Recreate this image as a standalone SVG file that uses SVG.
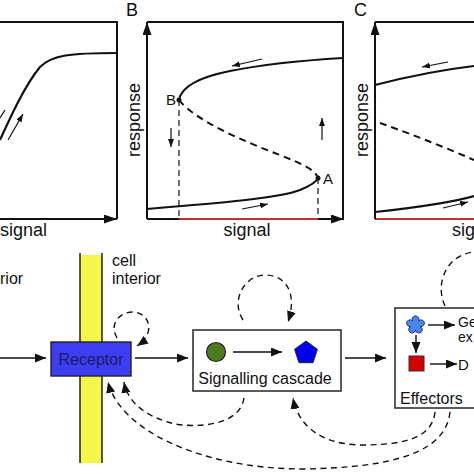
<svg xmlns="http://www.w3.org/2000/svg" width="474" height="474" viewBox="0 0 474 474">
<style>
text{font-family:"Liberation Sans",Arial,sans-serif;fill:#111}
.lbl{font-size:18px}
.t16{font-size:16px}
.t15{font-size:15px}
.t14{font-size:14px}
.ln{fill:none;stroke:#111;stroke-width:2}
.crv{fill:none;stroke:#111;stroke-width:2.2}
.dcrv{fill:none;stroke:#111;stroke-width:2;stroke-dasharray:7 5}
.vd{fill:none;stroke:#111;stroke-width:1.2;stroke-dasharray:6 4}
.red{stroke:#c8302c;stroke-width:2.2}
.sa{fill:none;stroke:#111;stroke-width:1.2;marker-end:url(#sh)}
.con{fill:none;stroke:#111;stroke-width:1.4;marker-end:url(#ah)}
.dcon{fill:none;stroke:#111;stroke-width:1.4;stroke-dasharray:6 4.5;marker-end:url(#ah)}
.box{fill:#fff;stroke:#333;stroke-width:1.6}
</style>
<defs>
<marker id="ah" markerUnits="userSpaceOnUse" markerWidth="12" markerHeight="10" refX="11" refY="4.5" orient="auto"><path d="M0,0 L11,4.5 L0,9 z" fill="#111"/></marker>
<marker id="axh" markerUnits="userSpaceOnUse" markerWidth="14" markerHeight="10" refX="13" refY="4.5" orient="auto"><path d="M0,0 L13,4.5 L0,9 z" fill="#111"/></marker>
<marker id="sh" markerUnits="userSpaceOnUse" markerWidth="9" markerHeight="7" refX="8" refY="3" orient="auto"><path d="M0,0 L8,3 L0,6 z" fill="#111"/></marker>
</defs>

<!-- Panel A -->
<g id="panelA">
<path class="ln" d="M0,22 H117 V219"/>
<line class="ln" x1="0" y1="219" x2="117" y2="219" marker-end="url(#axh)"/>
<path class="crv" d="M0,140 C10,118 25,85 40,67 C52,55 70,53 117,53"/>
<line x1="5" y1="110" x2="0" y2="118" stroke="#111" stroke-width="1.2"/>
<line class="sa" x1="8" y1="140" x2="23" y2="114"/>
<text class="lbl" x="0" y="236">signal</text>
</g>

<!-- Panel B -->
<g id="panelB">
<text class="lbl" x="126" y="16">B</text>
<path class="ln" d="M147,22 H343 V219"/>
<line class="ln" x1="147" y1="219" x2="147" y2="22" marker-end="url(#axh)"/>
<line class="ln" x1="147" y1="219" x2="344" y2="219" marker-end="url(#axh)"/>
<line class="red" x1="179" y1="219" x2="318" y2="219"/>
<line class="vd" x1="179" y1="100" x2="179" y2="218"/>
<line class="vd" x1="318" y1="178" x2="318" y2="218"/>
<path class="crv" d="M179,100 C181,88 195,78 230,71 C270,63 310,60 343,58"/>
<path class="dcrv" d="M179,100 C195,120 240,140 280,155 C305,165 315,170 318,178"/>
<path class="crv" d="M147,209 C220,203 280,198 300,190 C312,185 317,181 318,178"/>
<circle cx="179" cy="100" r="2.5" fill="#111"/>
<circle cx="318" cy="178" r="2.5" fill="#111"/>
<text class="t15" x="166" y="105">B</text>
<text class="t15" x="323" y="184">A</text>
<line class="sa" x1="262" y1="59" x2="232" y2="66"/>
<line class="sa" x1="171" y1="128" x2="171" y2="147"/>
<line class="sa" x1="322" y1="140" x2="322" y2="118"/>
<line class="sa" x1="242" y1="209" x2="268" y2="204"/>
<text class="lbl" transform="translate(140,120) rotate(-90)" text-anchor="middle">response</text>
<text class="lbl" x="247" y="236" text-anchor="middle">signal</text>
</g>

<!-- Panel C -->
<g id="panelC">
<text class="lbl" x="354" y="16">C</text>
<line class="ln" x1="375" y1="22" x2="474" y2="22"/>
<line class="ln" x1="375" y1="219" x2="375" y2="22" marker-end="url(#axh)"/>
<line class="ln" x1="375" y1="219" x2="474" y2="219"/>
<line class="red" x1="376" y1="219" x2="474" y2="219"/>
<path class="crv" d="M375,85 C410,76 440,70 474,66"/>
<path class="dcrv" d="M380,123 C400,130 440,145 474,160"/>
<path class="crv" d="M375,212 C420,207 450,203 474,196"/>
<line class="sa" x1="448" y1="62" x2="422" y2="67"/>
<line class="sa" x1="443" y1="208" x2="468" y2="202"/>
<text class="lbl" transform="translate(368,120) rotate(-90)" text-anchor="middle">response</text>
<text class="lbl" x="452" y="236">sig</text>
</g>

<!-- Bottom: labels -->
<text class="t16" x="0" y="284">rior</text>
<text class="t16" x="112" y="266">cell</text>
<text class="t16" x="112" y="284">interior</text>

<!-- Membrane -->
<g id="membrane">
<rect x="80" y="255" width="22" height="208" fill="#f6f64a"/>
<line x1="80" y1="253" x2="80" y2="463" stroke="#111" stroke-width="1.4"/>
<line x1="102" y1="253" x2="102" y2="463" stroke="#111" stroke-width="1.4"/>
</g>

<!-- Receptor -->
<g id="receptor">
<rect x="51" y="342" width="80" height="34" fill="#3d3df2" stroke="#222" stroke-width="1.4"/>
<text class="t16" x="91" y="365" text-anchor="middle" style="fill:#1c1c60">Receptor</text>
</g>

<!-- Signalling cascade -->
<g id="cascade">
<rect class="box" x="193" y="330" width="148" height="61"/>
<circle cx="216" cy="352" r="9.5" fill="#4f7b1f" stroke="#222" stroke-width="1.2"/>
<polygon points="306,341 317.4,349.3 313,362.7 299,362.7 294.6,349.3" fill="#0000ee" stroke="#222" stroke-width="1"/>
<line class="con" x1="233" y1="352" x2="282" y2="352"/>
<text class="t16" x="265" y="384" text-anchor="middle">Signalling cascade</text>
</g>

<!-- Effectors -->
<g id="effectors">
<rect class="box" x="395" y="308" width="100" height="100"/>
<path d="M412.56,320.95 A3.4,3.4 0 1 1 418.44,320.95 A3.4,3.4 0 1 1 420.26,326.55 A3.4,3.4 0 1 1 415.5,330 A3.4,3.4 0 1 1 410.74,326.55 A3.4,3.4 0 1 1 412.56,320.95 Z" fill="#4a86e8" stroke="#1d3c80" stroke-width="1"/>
<rect x="409" y="356" width="15" height="15" fill="#d40000" stroke="#333" stroke-width="1"/>
<line class="con" x1="428" y1="325" x2="455" y2="325"/>
<line class="con" x1="416" y1="335" x2="416" y2="353"/>
<line class="con" x1="430" y1="364" x2="457" y2="364"/>
<text class="t14" x="458" y="327">Ge</text>
<text class="t14" x="458" y="342">ex</text>
<text class="t15" x="458" y="370">D</text>
<text class="t16" x="400" y="404">Effectors</text>
</g>

<!-- Connectors -->
<g id="connectors">
<line class="con" x1="0" y1="358" x2="46" y2="358"/>
<line class="con" x1="135" y1="358" x2="188" y2="358"/>
<line class="con" x1="345" y1="358" x2="386" y2="358"/>
<path class="dcon" d="M117,338 C108,322 122,311 134,312 C150,314 156,333 137,346"/>
<path class="dcon" d="M243,320 C230,300 245,275 265,275 C285,275 298,292 288,322"/>
<path class="dcon" d="M445,306 C435,285 445,255 474,252 C490,251 500,255 505,260" style="marker-end:none"/>
<path class="dcon" d="M244,398 C240,425 200,428 175,424 C150,418 128,405 124,382"/>
<path class="dcon" d="M450,412 C446,450 400,468 300,469 C200,468 120,430 108,382"/>
<path class="dcon" d="M435,412 C432,440 400,445 360,445 C320,444 298,425 293,398"/>
</g>
</svg>
